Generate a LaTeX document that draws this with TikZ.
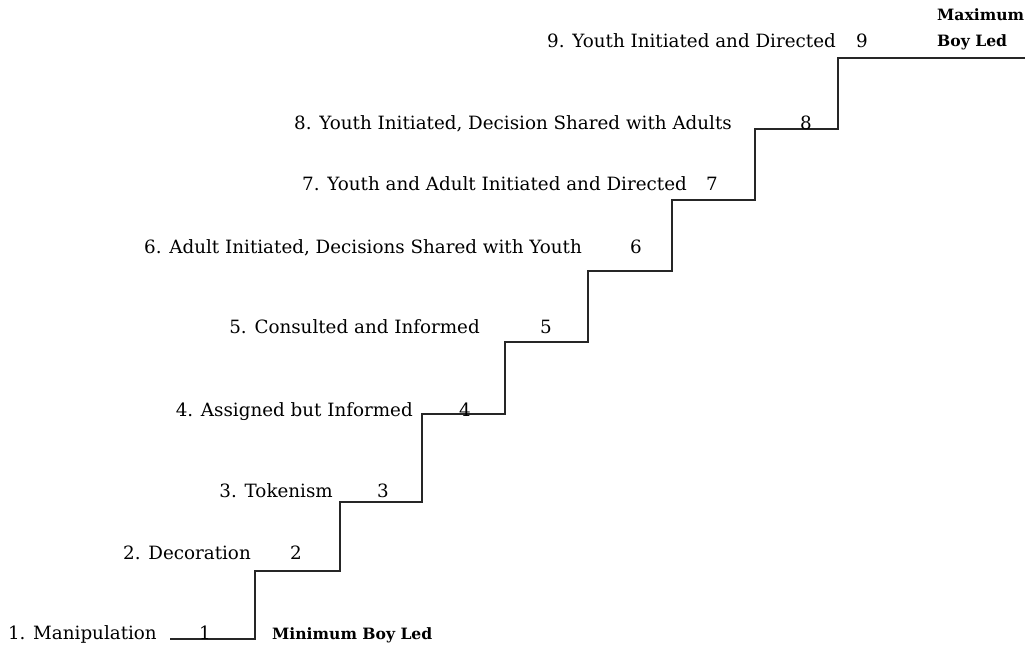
\documentclass[tikz,border=0pt]{standalone}
\usepackage{fontspec}
\setmainfont{DejaVu Serif}
\newcommand{\rung}[4]{% Parameters: name, right edge, baseline, label
  \node[rungtext,anchor=base east] (#1) at (#2,#3) {#4};
}
\newcommand{\rungnum}[4]{% Parameters: name, centre, baseline, number
  \node[rungtext,anchor=base] (#1) at (#2,#3) {#4};
}
\tikzset{
  rungtext/.style={inner sep=0pt,font=\fontsize{18.3}{20}\selectfont},
  endtext/.style={inner sep=0pt,font=\fontsize{15.6}{18}\selectfont\bfseries,align=left},
  stair/.style={draw=black!85,line width=1.3pt}
}

\begin{document}
\begin{tikzpicture}[x=1pt,y=-1pt]
  \useasboundingbox (0,0) rectangle (1025,645);
  % corners of the stairs
  \coordinate (s0) at (170,639);
  \coordinate (s1) at (255,639);
  \coordinate (s2) at (340,571);
  \coordinate (s3) at (422,502);
  \coordinate (s4) at (505,414);
  \coordinate (s5) at (588,342);
  \coordinate (s6) at (672,271);
  \coordinate (s7) at (755,200);
  \coordinate (s8) at (838,129);
  \coordinate (s9) at (1025,58);
  \draw[stair] (s0) -- (s1) |- (s2) |- (s3) |- (s4) |- (s5) |- (s6) |- (s7) |- (s8) |- (s9);
  % labels
  \rung{l1}{157}{639}{1. Manipulation}
  \rung{l2}{251}{559}{2. Decoration}
  \rung{l3}{333}{497}{3. Tokenism}
  \rung{l4}{413}{416}{4. Assigned but Informed}
  \rung{l5}{480}{333}{5. Consulted and Informed}
  \rung{l6}{582}{253}{6. Adult Initiated, Decisions Shared with Youth}
  \rung{l7}{687}{190}{7. Youth and Adult Initiated and Directed}
  \rung{l8}{732}{129}{8. Youth Initiated, Decision Shared with Adults}
  \rung{l9}{836}{47}{9. Youth Initiated and Directed}
  % numbers
  \rungnum{n1}{205}{639}{1}
  \rungnum{n2}{296}{559}{2}
  \rungnum{n3}{383}{497}{3}
  \rungnum{n4}{465}{416}{4}
  \rungnum{n5}{546}{333}{5}
  \rungnum{n6}{636}{253}{6}
  \rungnum{n7}{712}{190}{7}
  \rungnum{n8}{806}{129}{8}
  \rungnum{n9}{862}{47}{9}
  % ends of the scale
  \node[endtext,anchor=base west] (minimum) at (272,639) {Minimum Boy Led};
  \node[endtext,anchor=base west] (maximum) at (937,20) {Maximum};
  \node[endtext,anchor=base west] (boyled) at (937,46) {Boy Led};
\end{tikzpicture}
\end{document}
